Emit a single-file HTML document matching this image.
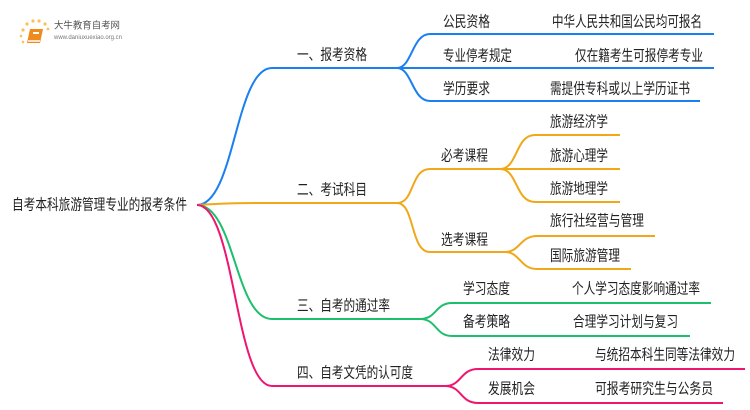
<!DOCTYPE html>
<html><head><meta charset="utf-8"><style>
html,body{margin:0;padding:0;background:#fff;width:750px;height:410px;overflow:hidden}
text{font-family:"Liberation Sans","Noto Sans CJK SC",sans-serif;font-size:15px;fill:#222;dominant-baseline:central}
path{fill:none;stroke-width:2}
</style></head><body>
<svg width="750" height="410" viewBox="0 0 750 410" xmlns="http://www.w3.org/2000/svg">
<g>
<circle cx="23" cy="30" r="1.6" fill="#f7c25a"/><circle cx="27" cy="24" r="1.6" fill="#f7c25a"/><circle cx="33" cy="21" r="1.6" fill="#f7c25a"/><circle cx="39" cy="21" r="1.6" fill="#f7c25a"/><circle cx="45" cy="24" r="1.6" fill="#f7c25a"/><circle cx="48" cy="29" r="1.4" fill="#f7c25a"/><circle cx="21" cy="36" r="1.3" fill="#f7c25a"/><circle cx="23" cy="42" r="1.3" fill="#f7c25a"/>
<path d="M30 29 L43 29 L40 43 L27 43 Z" style="fill:#f08a1c;stroke:none"/>
<path d="M28 41 L40 41" style="stroke:#fff;stroke-width:1.5"/>
<rect x="33" y="32" width="6" height="2" fill="#fff"/>
<text x="54" y="26" style="font-size:9.5px;fill:#555" textLength="66" lengthAdjust="spacingAndGlyphs">大牛教育自考网</text>
<text x="54" y="38" style="font-size:6px;fill:#777" textLength="68" lengthAdjust="spacingAndGlyphs">www.daniuxuexiao.org.cn</text>
</g>
<text x="12" y="205" textLength="175" lengthAdjust="spacingAndGlyphs">自考本科旅游管理专业的报考条件</text>
<path stroke="#1a7ff0" d="M197 205 C235 205,235 68,272 68 L397 68"/>
<text x="297" y="55" textLength="70" lengthAdjust="spacingAndGlyphs">一、报考资格</text>
<path stroke="#1a7ff0" d="M397 68 C412 68,412 34,430 34 L714 34 M397 68 L714 68 M397 68 C412 68,412 101,430 101 L700 101"/>
<text x="443" y="22" textLength="47" lengthAdjust="spacingAndGlyphs">公民资格</text>
<text x="552" y="22" textLength="150" lengthAdjust="spacingAndGlyphs">中华人民共和国公民均可报名</text>
<text x="443" y="56" textLength="69" lengthAdjust="spacingAndGlyphs">专业停考规定</text>
<text x="575" y="56" textLength="128" lengthAdjust="spacingAndGlyphs">仅在籍考生可报停考专业</text>
<text x="443" y="89" textLength="47" lengthAdjust="spacingAndGlyphs">学历要求</text>
<text x="550" y="89" textLength="140" lengthAdjust="spacingAndGlyphs">需提供专科或以上学历证书</text>
<path stroke="#f0a818" d="M197 205 C230 203,240 203,270 203 L397 203"/>
<text x="297" y="190" textLength="70" lengthAdjust="spacingAndGlyphs">二、考试科目</text>
<path stroke="#f0a818" d="M397 203 C415 203,410 169,430 169 L500 169 M397 203 C415 203,410 252,430 252 L505 252"/>
<text x="441" y="156" textLength="47" lengthAdjust="spacingAndGlyphs">必考课程</text>
<text x="441" y="240" textLength="47" lengthAdjust="spacingAndGlyphs">选考课程</text>
<path stroke="#f0a818" d="M500 169 C518 169,515 135,535 135 L620 135 M500 169 L620 169 M500 169 C518 169,515 202,535 202 L620 202"/>
<text x="550" y="122" textLength="58" lengthAdjust="spacingAndGlyphs">旅游经济学</text>
<text x="550" y="156" textLength="58" lengthAdjust="spacingAndGlyphs">旅游心理学</text>
<text x="550" y="189" textLength="58" lengthAdjust="spacingAndGlyphs">旅游地理学</text>
<path stroke="#f0a818" d="M505 252 C520 252,520 236,537 236 L655 236 M505 252 C520 252,520 269,537 269 L631 269"/>
<text x="550" y="221" textLength="94" lengthAdjust="spacingAndGlyphs">旅行社经营与管理</text>
<text x="550" y="256" textLength="70" lengthAdjust="spacingAndGlyphs">国际旅游管理</text>
<path stroke="#1cbf6c" d="M197 205 C235 205,235 319,272 319 L420 319"/>
<text x="297" y="306" textLength="93" lengthAdjust="spacingAndGlyphs">三、自考的通过率</text>
<path stroke="#1cbf6c" d="M420 319 C437 319,435 303,452 303 L711 303 M420 319 C437 319,435 336,452 336 L690 336"/>
<text x="463" y="289" textLength="47" lengthAdjust="spacingAndGlyphs">学习态度</text>
<text x="572" y="289" textLength="128" lengthAdjust="spacingAndGlyphs">个人学习态度影响通过率</text>
<text x="463" y="322" textLength="47" lengthAdjust="spacingAndGlyphs">备考策略</text>
<text x="573" y="322" textLength="105" lengthAdjust="spacingAndGlyphs">合理学习计划与复习</text>
<path stroke="#f0156f" d="M197 205 C235 205,235 386,272 386 L445 386"/>
<text x="297" y="373" textLength="116" lengthAdjust="spacingAndGlyphs">四、自考文凭的认可度</text>
<path stroke="#f0156f" d="M445 386 C462 386,460 369,478 369 L745 369 M445 386 C462 386,460 403,478 403 L723 403"/>
<text x="488" y="355" textLength="47" lengthAdjust="spacingAndGlyphs">法律效力</text>
<text x="595" y="355" textLength="140" lengthAdjust="spacingAndGlyphs">与统招本科生同等法律效力</text>
<text x="488" y="389" textLength="47" lengthAdjust="spacingAndGlyphs">发展机会</text>
<text x="595" y="389" textLength="118" lengthAdjust="spacingAndGlyphs">可报考研究生与公务员</text>
</svg>
</body></html>
